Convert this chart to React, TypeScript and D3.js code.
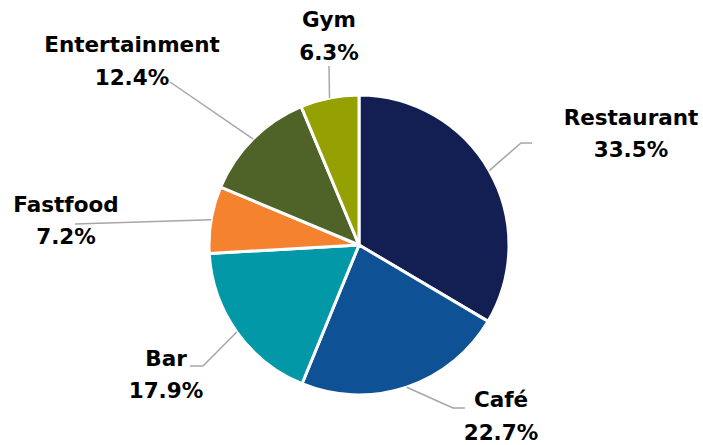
import React from "react";
import * as d3 from "d3";

const categories = ["Restaurant", "Café", "Bar", "Fastfood", "Entertainment", "Gym"];
const values = [33.5, 22.7, 17.9, 7.2, 12.4, 6.3];
const colors = ["#131F52", "#0E5194", "#0298A7", "#F5822F", "#4F6228", "#95A101"];

// label layout: [centerX, baseline1, baseline2], leader: elbow & end points
const labelPos: [number, number, number][] = [
  [631, 125, 157],
  [501, 407, 440],
  [166, 366, 398],
  [66, 212, 244],
  [132, 52, 85],
  [329, 27, 60],
];
const leaderPts: [number, number][][] = [
  [[521, 143], [532, 143]],
  [[453, 408], [465, 408]],
  [[203, 366], [190, 366]],
  [[75, 224]],
  [[170, 82]],
  [[329, 66]],
];

export default function App() {
  const W = 703, H = 445;
  const cx = 359, cy = 245, r = 150;
  const pie = d3.pie<number>().sort(null).value((d) => d);
  const arcs = pie(values);
  const arcGen = d3.arc<d3.PieArcDatum<number>>().innerRadius(0).outerRadius(r);
  const line = d3.line();
  return (
    <svg width={W} height={H} style={{ position: "absolute", left: 0, top: 0 }}>
      <rect width={W} height={H} fill="#fff" />
      <g transform={`translate(${cx},${cy})`}>
        {arcs.map((a, i) => (
          <path key={i} d={arcGen(a) || ""} fill={colors[i]} stroke="#fff" strokeWidth={3} strokeLinejoin="round" />
        ))}
      </g>
      {arcs.map((a, i) => {
        const mid = (a.startAngle + a.endAngle) / 2;
        const p0: [number, number] = [cx + r * Math.sin(mid), cy - r * Math.cos(mid)];
        return (
          <path key={"l" + i} d={line([p0, ...leaderPts[i]]) || ""} fill="none" stroke="#A6A6A6" strokeWidth={1.5} />
        );
      })}
      {categories.map((c, i) => (
        <g key={"t" + i} fontFamily="'DejaVu Sans', sans-serif" fontWeight="bold" fontSize={21.5} fill="#000" textAnchor="middle">
          <text x={labelPos[i][0]} y={labelPos[i][1]}>{c}</text>
          <text x={labelPos[i][0]} y={labelPos[i][2]}>{values[i].toFixed(1)}%</text>
        </g>
      ))}
    </svg>
  );
}
